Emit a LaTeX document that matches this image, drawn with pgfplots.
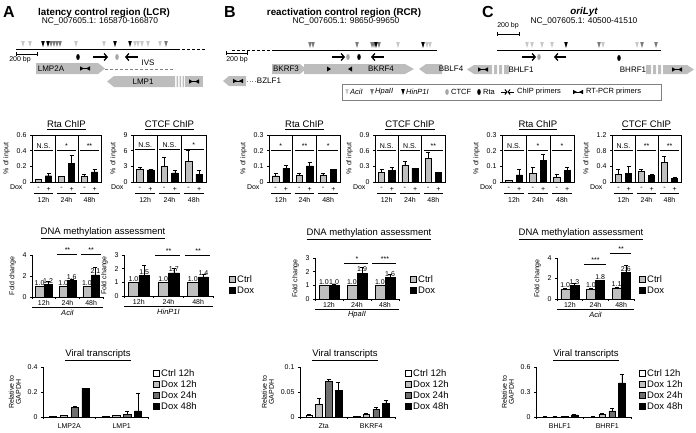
\documentclass[border=0pt]{standalone}
\usepackage{pgfplots}
\pgfplotsset{compat=1.18}
\usepackage{fontspec}
\setmainfont{Liberation Sans}
\usetikzlibrary{arrows.meta}
\definecolor{lg}{HTML}{BFBFBF}
\definecolor{dg}{HTML}{6F6F6F}
\definecolor{gene}{HTML}{BDBDBD}
\definecolor{tL}{HTML}{C8C8C8}
\definecolor{tH}{HTML}{7A7A7A}
\definecolor{mg}{HTML}{808080}
\newcommand{\fs}[1]{\fontsize{#1}{#1}\selectfont}

\pgfplotsset{
  every axis/.append style={scale only axis, anchor=south west, ymin=0, clip=false,
    font=\fs{7}, tick label style={font=\fs{7}}, label style={font=\fs{7}},
    tick align=outside, major tick length=2pt, axis line style={line width=0.5pt},
    tick style={black,line width=0.5pt}, ytick pos=left,
    /pgf/number format/assume math mode=true},
  eb/.style={error bars/y dir=plus, error bars/y explicit,
    error bars/error bar style={line width=0.5pt,black}},
  chip/.style={height=47pt, xmin=0, xmax=3, xtick={0.28,0.72,1.28,1.72,2.28,2.72},
    xticklabels={-,+,-,+,-,+}, xtick style={draw=none}, ylabel={\% of input}},
  cb/.style={ybar, bar width=0.27, bar shift=0pt, draw=black, line width=0.4pt, mark size=2pt, eb},
  meth/.style={axis lines*=left, xmin=0, xmax=3, xtick={0,1,2,3}, xticklabels={},
    extra x ticks={0.5,1.5,2.5}, extra x tick labels={12h,24h,48h},
    extra x tick style={major tick length=0pt}, ylabel={Fold change}},
  mb/.style={ybar, bar width=0.35, bar shift=0pt, draw=black, line width=0.4pt, mark size=2pt, eb},
  vir/.style={axis lines*=left, xmin=0, xmax=2, xtick={0,1,2}, xticklabels={},
    extra x tick style={major tick length=0pt, tick label style={yshift=-3pt}},
    height=50pt, ylabel style={align=center}, ylabel={Relative to\\GAPDH}},
  vb/.style={ybar, bar width=0.14, bar shift=0pt, draw=black, line width=0.4pt, mark size=2pt, eb},
}
% significance line: x1 x2 level xc label
\newcommand{\sig}[5]{\draw[line width=0.5pt] (axis cs:#1,#3) -- (axis cs:#2,#3);
  \node[font=\fs{7},anchor=south,inner sep=1.5pt] at (axis cs:#4,#3) {#5};}
% ChIP group underline: x1 x2 xc label
\newcommand{\grp}[4]{\draw[line width=0.5pt] ([yshift=-11pt]axis cs:#1,0) -- ([yshift=-11pt]axis cs:#2,0);
  \node[font=\fs{7}] at ([yshift=-17.5pt]axis cs:#3,0) {#4};}
\newcommand{\chipdeco}[1]{\draw[line width=0.5pt] (axis cs:1,0) -- (axis cs:1,#1);
  \draw[line width=0.5pt] (axis cs:2,0) -- (axis cs:2,#1);
  \node[font=\fs{7},anchor=east] at ([xshift=-6pt,yshift=-5.5pt]rel axis cs:0,0) {Dox};
  \grp{0.08}{0.92}{0.5}{12h}\grp{1.08}{1.92}{1.5}{24h}\grp{2.08}{2.92}{2.5}{48h}}
\newcommand{\vl}[3]{\node[font=\fs{7},anchor=south,inner sep=0.8pt] at (axis cs:#1,#2) {#3};}
\newcommand{\enz}[1]{\draw[line width=0.5pt] ([yshift=-10pt]rel axis cs:0,0) -- ([yshift=-10pt]rel axis cs:1,0);
  \node[font=\fs{7.5}\itshape] at ([yshift=-16pt]rel axis cs:0.5,0) {#1};}
% header helpers (inside scope x=1pt,y=-1pt)
\newcommand{\tri}[3]{\fill[#3] (#1-1.8,#2-6) -- (#1+1.8,#2-6) -- (#1,#2) -- cycle;}
\newcommand{\rtp}[2]{\fill (#1-5,#2-2.2) -- (#1-1,#2) -- (#1-5,#2+2.2) -- cycle;
  \fill (#1+5,#2-2.2) -- (#1+1,#2) -- (#1+5,#2+2.2) -- cycle;
  \draw[line width=0.5pt] (#1-5,#2) -- (#1+5,#2);}
\newcommand{\rarr}[3]{\draw[line width=1.3pt,-{Straight Barb[length=3pt,width=7pt]}] (#1,#3) -- (#2,#3);}
\newcommand{\sq}[3]{\filldraw[fill=#3,draw=black,line width=0.4pt] (#1,#2-3) rectangle (#1+6,#2+3);}

\begin{document}
\begin{tikzpicture}
\useasboundingbox (0pt,0pt) rectangle (696pt,-432pt);
\begin{scope}[x=1pt,y=-1pt]
% ================= headers =================
\node[font=\fs{16}\bfseries] at (9,12) {A};
\node[font=\fs{16}\bfseries] at (230,12) {B};
\node[font=\fs{16}\bfseries] at (488,12) {C};
\node[font=\fs{9.8}\bfseries] at (104,13) {latency control region (LCR)};
\node[font=\fs{8.4}] at (100,21.5) {NC\_007605.1: 165870-166870};
\node[font=\fs{9.8}\bfseries] at (344,13) {reactivation control region (RCR)};
\node[font=\fs{8.4}] at (346,21.5) {NC\_007605.1: 98650-99650};
\node[font=\fs{9.8}\bfseries\itshape] at (584,12) {oriLyt};
\node[font=\fs{8.4}] at (584,21.5) {NC\_007605.1: 40500-41510};
% ---- A map
\draw[line width=1pt] (16,49) -- (177,49);
\draw[line width=1pt,dash pattern=on 3pt off 2pt] (177,49) -- (205,49);
\foreach \x in {23,30,76,104,135,138,142,148,160} {\tri{\x}{47}{tL}}
\foreach \x in {51,54,57,60,166} {\tri{\x}{47}{tH}}
\foreach \x in {43,48,115,130} {\tri{\x}{47}{black}}
\draw[line width=0.6pt] (16,52) -- (16,56) (16,54) -- (37,54) (37,52) -- (37,56);
\node[font=\fs{7}] at (20,60) {200 bp};
\fill[black] (78,57) ellipse [x radius=1.8, y radius=3];
\fill[mg!70] (117,57) ellipse [x radius=1.8, y radius=3];
\rarr{93}{108}{57}
\rarr{138}{125}{57}
\fill[gene] (36,63) -- (98,63) -- (105,68.5) -- (98,74) -- (36,74) -- cycle;
\node[font=\fs{8}] at (51,68.5) {LMP2A};
\rtp{85}{68.5}
\draw[mg,line width=0.7pt,dash pattern=on 3pt off 2pt] (105,69) -- (175,69);
\node[font=\fs{8}] at (148,63) {IVS};
\fill[gene] (107,81.5) -- (114,76) -- (175,76) -- (175,87) -- (114,87) -- cycle;
\node[font=\fs{8}] at (143,81.5) {LMP1};
\fill[gene] (176.5,76) rectangle (178,87) (179.5,76) rectangle (181,87) (182.5,76) rectangle (184,87);
\fill[gene] (185,76) rectangle (203,87);
\rtp{194}{81.5}
% ---- B map
\draw[line width=1pt,dash pattern=on 3pt off 2pt] (232,50) -- (272,50);
\draw[line width=1pt] (272,50) -- (437,50);
\foreach \x in {398,427,430} {\tri{\x}{48}{tL}}
\foreach \x in {310,313,357,372,374,379} {\tri{\x}{48}{tH}}
\foreach \x in {376,423} {\tri{\x}{48}{black}}
\draw[line width=0.6pt] (226,51) -- (226,55) (226,53) -- (247,53) (247,51) -- (247,55);
\node[font=\fs{7}] at (237,60) {200 bp};
\rarr{332}{345}{57}
\fill[mg!70] (348,57) ellipse [x radius=1.8, y radius=3];
\fill[black] (359,57) ellipse [x radius=1.8, y radius=3];
\rarr{384}{371}{57}
\fill[gene] (272,64) -- (300,64) -- (306,69) -- (300,74) -- (272,74) -- cycle;
\fill[gene] (304,64) -- (405,64) -- (414,69) -- (405,74) -- (304,74) -- cycle;
\node[font=\fs{8}] at (286,69) {BKRF3};
\node[font=\fs{8}] at (381,69) {BKRF4};
\fill (327,66.5) -- (331,69) -- (327,71.5) -- cycle;
\fill (352,66.5) -- (348,69) -- (352,71.5) -- cycle;
\fill[gene] (419,69) -- (426,64) -- (442,64) -- (442,74) -- (426,74) -- cycle;
\node[font=\fs{8}] at (451,69) {BBLF4};
\fill[gene] (223,81) -- (229,76) -- (246,76) -- (246,86) -- (229,86) -- cycle;
\rtp{238}{81}
\draw[mg,line width=0.6pt,dotted] (247,81) -- (258,81);
\node[font=\fs{8}] at (269,81) {BZLF1};
% legend box
\draw[mg,line width=0.4pt] (342,84) rectangle (661,100);
\tri{347}{95}{tL}\node[font=\fs{7.5}\itshape,anchor=west,inner sep=1pt] at (349,92) {AciI};
\tri{372}{95}{tH}\node[font=\fs{7.5}\itshape,anchor=west,inner sep=1pt] at (374,92) {HpaII};
\tri{403}{95}{black}\node[font=\fs{7.5}\itshape,anchor=west,inner sep=1pt] at (405,92) {HinP1I};
\fill[mg!70] (447,92) ellipse [x radius=1.8, y radius=3];
\node[font=\fs{7.5},anchor=west,inner sep=1pt] at (450,92) {CTCF};
\fill[black] (479,92) ellipse [x radius=1.8, y radius=3];
\node[font=\fs{7.5},anchor=west,inner sep=1pt] at (482,92) {Rta};
\draw[line width=1pt,-{Straight Barb[length=2pt,width=5pt]}] (501,92) -- (507.5,92);
\draw[line width=1pt,-{Straight Barb[length=2pt,width=5pt]}] (514,92) -- (507.5,92);
\node[font=\fs{7.5},anchor=west,inner sep=1pt] at (516,92) {ChIP primers};
\rtp{578}{92}
\node[font=\fs{7.5},anchor=west,inner sep=1pt] at (585,92) {RT-PCR primers};
% ---- C map
\draw[line width=1pt] (497,50) -- (661,50);
\foreach \x in {527,532,542,552,603,637} {\tri{\x}{48}{tL}}
\foreach \x in {599,642,656} {\tri{\x}{48}{tH}}
\foreach \x in {566} {\tri{\x}{48}{black}}
\draw[line width=0.6pt] (497,32) -- (497,36) (497,34) -- (519,34) (519,32) -- (519,36);
\node[font=\fs{7}] at (508,26) {200 bp};
\rarr{522}{536}{57}
\fill[mg!70] (539,57) ellipse [x radius=1.8, y radius=3];
\rarr{566}{554}{57}
\fill[black] (619,58) ellipse [x radius=1.8, y radius=3];
\fill[gene] (467,69.5) -- (474,65) -- (492,65) -- (492,74) -- (474,74) -- cycle;
\rtp{483}{69.5}
\fill[gene] (494,65) rectangle (497,74) (499,65) rectangle (502,74) (504,65) rectangle (509,74);
\node[font=\fs{8}] at (521,69.5) {BHLF1};
\node[font=\fs{8}] at (633,69.5) {BHRF1};
\fill[gene] (646,65) rectangle (651,74) (653,65) rectangle (656,74) (658,65) rectangle (661,74);
\fill[gene] (663,65) -- (687,65) -- (694,69.5) -- (687,74) -- (663,74) -- cycle;
\rtp{677}{69.5}
% ================= titles =================
\node[font=\fs{9.5}] at (66.5,125) {\underline{Rta ChIP}};
\node[font=\fs{9.5}] at (169.5,125) {\underline{CTCF ChIP}};
\node[font=\fs{9.5}] at (304.5,125) {\underline{Rta ChIP}};
\node[font=\fs{9.5}] at (410,125) {\underline{CTCF ChIP}};
\node[font=\fs{9.5}] at (538,125) {\underline{Rta ChIP}};
\node[font=\fs{9.5}] at (646.5,125) {\underline{CTCF ChIP}};
\node[font=\fs{9.5}] at (103,233) {\underline{DNA methylation assessment}};
\node[font=\fs{9.5}] at (369,234) {\underline{DNA methylation assessment}};
\node[font=\fs{9.5}] at (581,234) {\underline{DNA methylation assessment}};
\node[font=\fs{9.5}] at (98,355) {\underline{Viral transcripts}};
\node[font=\fs{9.5}] at (345,355) {\underline{Viral transcripts}};
\node[font=\fs{9.5}] at (586,355) {\underline{Viral transcripts}};
% methylation legends
\foreach \lx in {229,410,639} {
  \sq{\lx}{279}{lg}\node[font=\fs{9.5},anchor=west,inner sep=1pt] at (\lx+7,279) {Ctrl};
  \sq{\lx}{290}{black}\node[font=\fs{9.5},anchor=west,inner sep=1pt] at (\lx+7,290) {Dox};}
% viral legends
\foreach \lx in {153,405,639} {
  \filldraw[fill=white,draw=black,line width=0.4pt] (\lx,370) rectangle (\lx+6,376);
  \node[font=\fs{9.5},anchor=west,inner sep=1pt] at (\lx+7,373) {Ctrl 12h};
  \sq{\lx}{384}{lg}\node[font=\fs{9.5},anchor=west,inner sep=1pt] at (\lx+7,384) {Dox 12h};
  \sq{\lx}{395}{dg}\node[font=\fs{9.5},anchor=west,inner sep=1pt] at (\lx+7,395) {Dox 24h};
  \sq{\lx}{406}{black}\node[font=\fs{9.5},anchor=west,inner sep=1pt] at (\lx+7,406) {Dox 48h};}
\end{scope}

% ================= Row 1: ChIP =================
\begin{axis}[chip, at={(32pt,-182pt)}, width=69pt, ymax=0.6, ytick={0,0.2,0.4,0.6}, yticklabels={0,0.2,0.4,0.6}]
\addplot[cb, fill=lg] table[x=x,y=y,y error=e] {
x y e
0.28 0.03 0.005
1.28 0.07 0.005
2.28 0.075 0.02
};
\addplot[cb, fill=black] table[x=x,y=y,y error=e] {
x y e
0.72 0.08 0.03
1.72 0.235 0.105
2.72 0.13 0.03
};
\chipdeco{0.6}
\sig{0.08}{0.92}{0.41}{0.5}{N.S.}\sig{1.08}{1.92}{0.41}{1.5}{*}\sig{2.08}{2.92}{0.41}{2.5}{**}
\end{axis}

\begin{axis}[chip, at={(133pt,-182pt)}, width=73pt, ymax=9, ytick={0,3,6,9}, yticklabels={0,3,6,9}]
\addplot[cb, fill=lg] table[x=x,y=y,y error=e] {
x y e
0.28 2.4 0.4
1.28 3.0 1.8
2.28 4.0 2.0
};
\addplot[cb, fill=black] table[x=x,y=y,y error=e] {
x y e
0.72 2.3 0.1
1.72 1.75 0.5
2.72 1.5 0.7
};
\chipdeco{9}
\sig{0.08}{0.92}{6.2}{0.5}{N.S.}\sig{1.08}{1.92}{6.2}{1.5}{N.S.}\sig{2.08}{2.92}{6.2}{2.5}{*}
\end{axis}

\begin{axis}[chip, at={(269pt,-182pt)}, width=71pt, ymax=0.3, ytick={0,0.1,0.2,0.3}, yticklabels={0,0.1,0.2,0.3}]
\addplot[cb, fill=lg] table[x=x,y=y,y error=e] {
x y e
0.28 0.04 0.018
1.28 0.045 0.013
2.28 0.045 0.012
};
\addplot[cb, fill=black] table[x=x,y=y,y error=e] {
x y e
0.72 0.085 0.022
1.72 0.103 0.022
2.72 0.08 0.002
};
\chipdeco{0.3}
\sig{0.08}{0.92}{0.2}{0.5}{*}\sig{1.08}{1.92}{0.2}{1.5}{**}\sig{2.08}{2.92}{0.2}{2.5}{*}
\end{axis}

\begin{axis}[chip, at={(375pt,-182pt)}, width=70pt, ymax=0.9, ytick={0,0.3,0.6,0.9}, yticklabels={0,0.3,0.6,0.9}]
\addplot[cb, fill=lg] table[x=x,y=y,y error=e] {
x y e
0.28 0.18 0.06
1.28 0.32 0.08
2.28 0.45 0.13
};
\addplot[cb, fill=black] table[x=x,y=y,y error=e] {
x y e
0.72 0.22 0.06
1.72 0.26 0.005
2.72 0.18 0.005
};
\chipdeco{0.9}
\sig{0.08}{0.92}{0.6}{0.5}{N.S.}\sig{1.08}{1.92}{0.6}{1.5}{N.S.}\sig{2.08}{2.92}{0.6}{2.5}{**}
\end{axis}

\begin{axis}[chip, at={(502pt,-182pt)}, width=72pt, ymax=0.3, ytick={0,0.1,0.2,0.3}, yticklabels={0,0.1,0.2,0.3}]
\addplot[cb, fill=lg] table[x=x,y=y,y error=e] {
x y e
0.28 0.01 0.002
1.28 0.055 0.04
2.28 0.033 0.02
};
\addplot[cb, fill=black] table[x=x,y=y,y error=e] {
x y e
0.72 0.045 0.035
1.72 0.14 0.035
2.72 0.075 0.018
};
\chipdeco{0.3}
\sig{0.08}{0.92}{0.2}{0.5}{N.S.}\sig{1.08}{1.92}{0.2}{1.5}{*}\sig{2.08}{2.92}{0.2}{2.5}{*}
\end{axis}

\begin{axis}[chip, at={(612pt,-182pt)}, width=69pt, ymax=1.2, ytick={0,0.4,0.8,1.2}, yticklabels={0,0.4,0.8,1.2}]
\addplot[cb, fill=lg] table[x=x,y=y,y error=e] {
x y e
0.28 0.2 0.13
1.28 0.27 0.05
2.28 0.5 0.17
};
\addplot[cb, fill=black] table[x=x,y=y,y error=e] {
x y e
0.72 0.22 0.18
1.72 0.17 0.04
2.72 0.1 0.02
};
\chipdeco{1.2}
\sig{0.08}{0.92}{0.8}{0.5}{N.S.}\sig{1.08}{1.92}{0.8}{1.5}{**}\sig{2.08}{2.92}{0.8}{2.5}{**}
\end{axis}

% ================= Row 2: methylation =================
\begin{axis}[meth, at={(32pt,-297pt)}, width=71pt, height=42pt, ymax=4, ytick={0,2,4}, yticklabels={0,2,4}]
\addplot[mb, fill=lg] table[x=x,y=y,y error=e] {
x y e
0.32 1.0 0.03
1.32 1.0 0.03
2.32 1.0 0.04
};
\addplot[mb, fill=black] table[x=x,y=y,y error=e] {
x y e
0.68 1.2 0.3
1.68 1.6 0.05
2.68 2.1 0.75
};
\vl{0.32}{1.0}{1.0}\vl{0.68}{1.2}{1.2}\vl{1.32}{1.0}{1.0}\vl{1.68}{1.6}{1.6}\vl{2.32}{1.0}{1.0}\vl{2.68}{2.1}{2.1}
\sig{1.05}{1.9}{4.05}{1.5}{**}\sig{2.05}{2.9}{4.05}{2.5}{**}
\enz{AciI}
\end{axis}

\begin{axis}[meth, at={(124pt,-296pt)}, width=89pt, height=41pt, ymax=3, ytick={0,1,2,3}, yticklabels={0,1,2,3}]
\addplot[mb, fill=lg] table[x=x,y=y,y error=e] {
x y e
0.32 1.0 0.02
1.32 1.0 0.02
2.32 1.0 0.02
};
\addplot[mb, fill=black] table[x=x,y=y,y error=e] {
x y e
0.68 1.5 0.75
1.68 1.7 0.35
2.68 1.4 0.2
};
\vl{0.32}{1.0}{1.0}\vl{0.68}{1.5}{1.5}\vl{1.32}{1.0}{1.0}\vl{1.68}{1.7}{1.7}\vl{2.32}{1.0}{1.0}\vl{2.68}{1.4}{1.4}
\sig{1.05}{1.9}{3.0}{1.5}{**}\sig{2.05}{2.9}{3.0}{2.5}{**}
\enz{HinP1I}
\end{axis}

\begin{axis}[meth, at={(315pt,-299pt)}, width=84pt, height=41pt, ymax=3, ytick={0,1,2,3}, yticklabels={0,1,2,3}]
\addplot[mb, fill=lg] table[x=x,y=y,y error=e] {
x y e
0.32 1.0 0.02
1.32 1.0 0.02
2.32 1.0 0.02
};
\addplot[mb, fill=black] table[x=x,y=y,y error=e] {
x y e
0.68 1.0 0.05
1.68 1.9 0.4
2.68 1.6 0.2
};
\vl{0.32}{1.0}{1.0}\vl{0.68}{1.0}{1.0}\vl{1.32}{1.0}{1.0}\vl{1.68}{1.9}{1.9}\vl{2.32}{1.0}{1.0}\vl{2.68}{1.6}{1.6}
\sig{1.05}{1.9}{2.6}{1.5}{*}\sig{2.05}{2.9}{2.6}{2.5}{***}
\enz{HpaII}
\end{axis}

\begin{axis}[meth, at={(557pt,-299pt)}, width=77pt, height=41pt, ymax=4, ytick={0,2,4}, yticklabels={0,2,4}]
\addplot[mb, fill=lg] table[x=x,y=y,y error=e] {
x y e
0.32 1.0 0.02
1.32 1.0 0.02
2.32 1.1 0.04
};
\addplot[mb, fill=black] table[x=x,y=y,y error=e] {
x y e
0.68 1.3 0.25
1.68 1.8 0.05
2.68 2.6 0.7
};
\vl{0.32}{1.0}{1.0}\vl{0.68}{1.3}{1.3}\vl{1.32}{1.0}{1.0}\vl{1.68}{1.8}{1.8}\vl{2.32}{1.1}{1.1}\vl{2.68}{2.6}{2.6}
\sig{1.05}{1.9}{3.4}{1.5}{***}\sig{2.05}{2.9}{4.5}{2.5}{**}
\enz{AciI}
\end{axis}

% ================= Row 3: viral transcripts =================
\begin{axis}[vir, at={(43pt,-417pt)}, width=105pt, ymax=0.4, ytick={0,0.2,0.4}, yticklabels={0,0.2,0.4},
  extra x ticks={0.5,1.5}, extra x tick labels={LMP2A,LMP1}]
\addplot[vb, fill=white] table[x=x,y=y,y error=e] {
x y e
0.19 0.005 0.001
1.19 0.005 0.001
};
\addplot[vb, fill=lg] table[x=x,y=y,y error=e] {
x y e
0.395 0.015 0.003
1.395 0.015 0.003
};
\addplot[vb, fill=dg] table[x=x,y=y,y error=e] {
x y e
0.605 0.08 0.007
1.605 0.02 0.03
};
\addplot[vb, fill=black] table[x=x,y=y,y error=e] {
x y e
0.81 0.23 0.002
1.81 0.05 0.14
};
\end{axis}

\begin{axis}[vir, at={(300pt,-417pt)}, width=95pt, ymax=0.1, ytick={0,0.05,0.1}, yticklabels={0,0.05,0.1},
  extra x ticks={0.5,1.5}, extra x tick labels={Zta,BKRF4}]
\addplot[vb, fill=white] table[x=x,y=y,y error=e] {
x y e
0.19 0.004 0.001
1.19 0.001 0.0003
};
\addplot[vb, fill=lg] table[x=x,y=y,y error=e] {
x y e
0.395 0.025 0.013
1.395 0.005 0.003
};
\addplot[vb, fill=dg] table[x=x,y=y,y error=e] {
x y e
0.605 0.071 0.004
1.605 0.016 0.004
};
\addplot[vb, fill=black] table[x=x,y=y,y error=e] {
x y e
0.81 0.053 0.017
1.81 0.027 0.007
};
\end{axis}

\begin{axis}[vir, at={(536pt,-417pt)}, width=95pt, ymax=0.6, ytick={0,0.3,0.6}, yticklabels={0,0.3,0.6},
  extra x ticks={0.5,1.5}, extra x tick labels={BHLF1,BHRF1}]
\addplot[vb, fill=white] table[x=x,y=y,y error=e] {
x y e
0.19 0.003 0.001
1.19 0.003 0.001
};
\addplot[vb, fill=lg] table[x=x,y=y,y error=e] {
x y e
0.395 0.003 0.001
1.395 0.035 0.005
};
\addplot[vb, fill=dg] table[x=x,y=y,y error=e] {
x y e
0.605 0.004 0.001
1.605 0.075 0.035
};
\addplot[vb, fill=black] table[x=x,y=y,y error=e] {
x y e
0.81 0.025 0.003
1.81 0.41 0.1
};
\end{axis}
\end{tikzpicture}
\end{document}
